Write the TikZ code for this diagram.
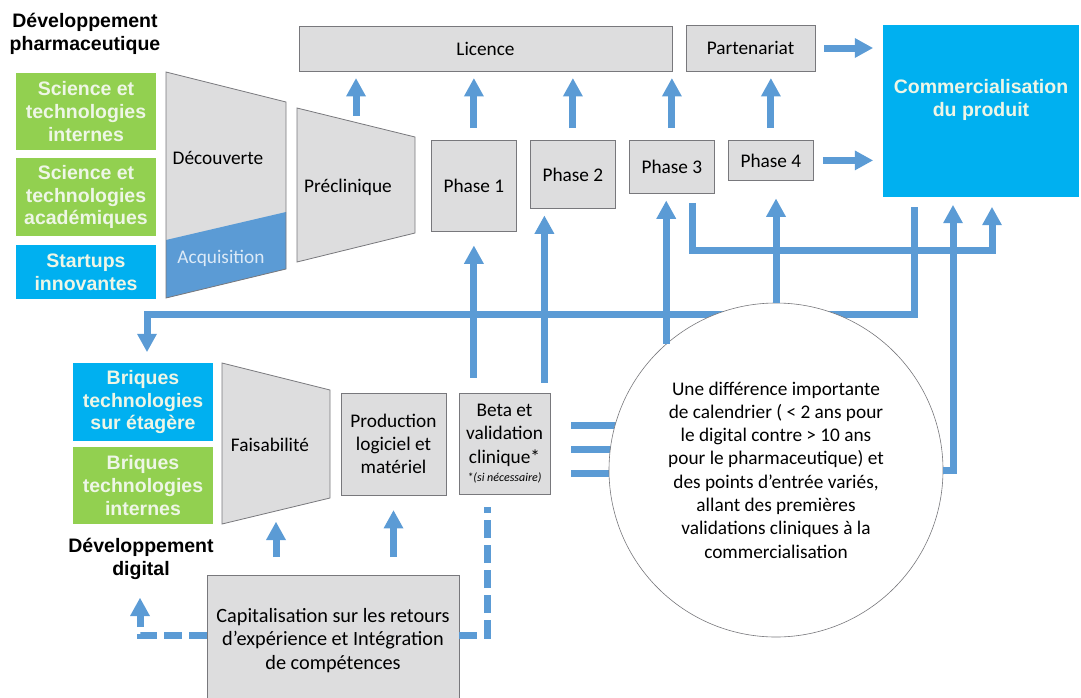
\documentclass[tikz,border=0pt]{standalone}
\usepackage{fontspec}
\setmainfont{Carlito}
\newfontfamily\headfont{Liberation Sans}
\usetikzlibrary{calc,arrows.meta}

\definecolor{boxgray}{RGB}{221,221,222}
\definecolor{boxedge}{RGB}{120,120,124}
\definecolor{leafgreen}{RGB}{146,208,80}
\definecolor{skyblue}{RGB}{0,176,240}
\definecolor{flowblue}{RGB}{91,155,213}
\definecolor{paletext}{RGB}{238,246,230}
\definecolor{acqtext}{RGB}{220,234,247}

\begin{document}
\begin{tikzpicture}[x=1pt,y=-1pt]

\def\phasew{85}

\tikzset{
  lbl/.style={align=center, inner sep=0pt, font=\fontsize{19.3}{23.3}\selectfont},
  plain/.style={lbl, draw=boxedge, fill=boxgray, line width=0.8pt},
  tile/.style={fill=#1, inner sep=0pt, align=center, text=paletext,
    font=\headfont\bfseries\fontsize{19.5}{22.6}\selectfont, minimum width=140pt},
  title/.style={align=center, inner sep=0pt, font=\headfont\bfseries\fontsize{19.5}{23}\selectfont},
  link/.style={draw=flowblue, line width=7pt},
  flow/.style={link, -{Triangle[width=20pt,length=18pt,line width=0pt]}},
  dashlink/.style={link, dash pattern=on 18pt off 7pt}
}

\useasboundingbox (0,0) rectangle (1081,697);

\node[title] (devpharma) at (85,34) {Développement\\pharmaceutique};
\node[title] (devdig) at (141,559) {Développement\\digital};

\node[tile=leafgreen, minimum height=77pt] (scint) at (86,111.5) {Science et\\technologies\\internes};
\node[tile=leafgreen, minimum height=78pt] (scacad) at (86,197) {Science et\\technologies\\académiques};
\node[tile=skyblue, minimum height=54pt] (startups) at (86,272) {Startups\\innovantes};
\node[tile=skyblue, minimum height=78pt] (brshelf) at (143,402) {Briques\\technologies\\sur étagère};
\node[tile=leafgreen, minimum height=77pt] (brint) at (143,485.5) {Briques\\technologies\\internes};

\coordinate (dtl) at (166,72); \coordinate (dtr) at (286,102);
\coordinate (dbr) at (286,269); \coordinate (dbl) at (166,298);
\fill[boxgray] (dtl) -- (dtr) -- (dbr) -- (dbl) -- cycle;
\fill[flowblue] (166,240) -- (286,212) -- (dbr) -- (dbl) -- cycle;
\draw[boxedge, line width=0.8pt] (dtl) -- (dtr) -- (dbr) -- (dbl) -- cycle;
\node[lbl] (discovery) at (218,158) {Découverte};
\node[lbl, text=acqtext] (acq) at (221,258) {Acquisition};

\coordinate (ptl) at (297,108); \coordinate (ptr) at (415,137);
\coordinate (pbr) at (415,233); \coordinate (pbl) at (297,262);
\draw[boxedge, fill=boxgray, line width=0.8pt] (ptl) -- (ptr) -- (pbr) -- (pbl) -- cycle;
\node[lbl] (preclin) at (348,187) {Préclinique};
\coordinate (pctop) at ($(ptl)!0.5!(ptr)$);

\coordinate (ftl) at (222,363); \coordinate (ftr) at (330,390);
\coordinate (fbr) at (330,498); \coordinate (fbl) at (222,524);
\draw[boxedge, fill=boxgray, line width=0.8pt] (ftl) -- (ftr) -- (fbr) -- (fbl) -- cycle;
\node[lbl] (feasible) at (270,445) {Faisabilité};
\coordinate (faisbot) at ($(fbl)!0.5!(fbr)$);

\node[plain, minimum width=373pt, minimum height=45pt] (licence) at (485.5,48.5) {Licence};
\node[plain, minimum width=129pt, minimum height=46pt] (partner) at (750.5,48) {Partenariat};

\foreach \n/\h in {1/91,2/68,3/53,4/40}
  \node[plain, anchor=north west, minimum width=\phasew pt, minimum height=\h pt] (phase\n) at ({332+99*\n},140) {Phase \n};

\node[fill=skyblue, minimum width=196pt, minimum height=172pt, inner sep=0pt] (market) at (981,111) {};
\node[title, text=paletext] (markettext) at (981,100) {Commercialisation\\du produit};

\node[plain, minimum width=105pt, minimum height=102pt] (prod) at (393.5,444) {Production\\logiciel et\\matériel};
\node[plain, minimum width=91pt, minimum height=101pt] (beta) at (504.5,443.5) {Beta et\\validation\\clinique*\\[-5pt]{\fontsize{12}{13}\selectfont\itshape *(si nécessaire)}};
\node[plain, anchor=north, minimum width=252pt, minimum height=130pt, font=\fontsize{20.3}{23.5}\selectfont] (capital) at (333,575) {Capitalisation sur les retours\\d’expérience et Intégration\\de compétences};

\draw[flow, shorten <=7pt, shorten >=7pt] (pctop) -- (pctop |- licence.south);
\foreach \n in {1,2,3}
  \draw[flow, shorten <=12pt, shorten >=7pt] (phase\n.north) -- (phase\n.north |- licence.south);
\draw[flow, shorten <=12pt, shorten >=7pt] (phase4.north) -- (phase4.north |- partner.south);
\draw[flow, shorten <=9pt, shorten >=10pt] (partner.east) -- (partner.east -| market.west);
\draw[flow, shorten <=9pt, shorten >=10pt] (phase4.east) -- (phase4.east -| market.west);

\draw[flow, shorten <=15pt, shorten >=14pt] (beta.north -| phase1.south) -- (phase1.south);
\coordinate (betaright) at ([xshift=-6pt]beta.north east);
\draw[flow, shorten <=10pt, shorten >=7pt] (betaright) -- (betaright |- phase2.south);

\draw[flow, shorten <=9pt, shorten >=10pt] ([xshift=-22pt]phase3.south east) |- ([xshift=11pt,yshift=-53pt]market.south) -- ([xshift=11pt]market.south);
\draw[flow, shorten <=10pt, shorten >=11pt] ([xshift=-67pt]market.south) |- ([xshift=4pt,yshift=48pt]brshelf.north) -- ([xshift=4pt]brshelf.north);

\foreach \dy in {18.5,-5.5,-29.5}
  \draw[link] ([xshift=21pt,yshift=\dy pt]beta.east) -- ++(60,0);

\node[circle, draw=boxedge, fill=white, line width=0.6pt, minimum size=334pt, lbl] (gap) at (776,470)
  {Une différence importante\\de calendrier ( < 2 ans pour\\le digital contre > 10 ans\\pour le pharmaceutique) et\\des points d’entrée variés,\\allant des premières\\validations cliniques à la\\commercialisation};

\draw[flow, shorten >=7pt] (gap.131) -- (gap.131 |- phase3.south);
\draw[flow, shorten >=18pt] (gap.north) -- (gap.north |- phase4.south);
\draw[flow, shorten >=8pt] (gap.east) -| ([xshift=-28pt]market.south);

\draw[flow, shorten <=18pt, shorten >=11pt] (capital.north -| faisbot) -- (faisbot);
\draw[flow, shorten <=18pt, shorten >=15pt] (capital.north -| prod.south) -- (prod.south);

\coordinate (digtip) at (140,598);
\draw[dashlink] ([yshift=5pt]capital.east) -| ([xshift=-17.5pt,yshift=-13pt]beta.south);
\draw[dashlink, -{Triangle[width=20pt,length=18pt,line width=0pt]}] ([yshift=5pt]capital.west) -| (digtip);

\end{tikzpicture}
\end{document}
